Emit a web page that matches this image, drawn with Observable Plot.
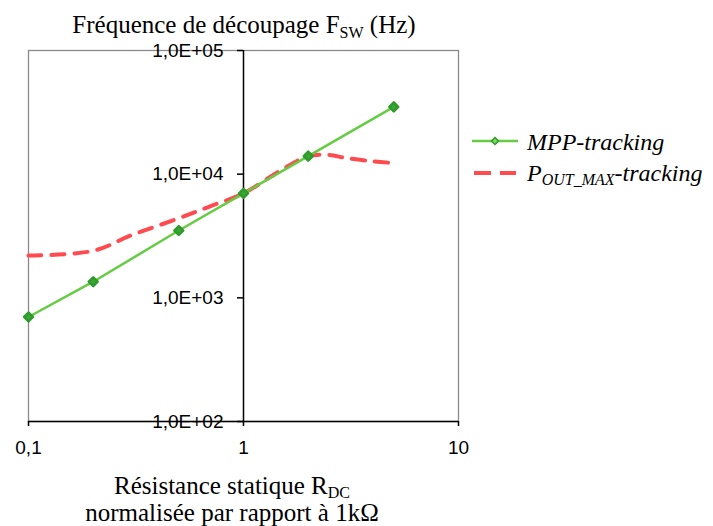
<!DOCTYPE html>
<html><head><meta charset="utf-8">
<script src="https://cdn.jsdelivr.net/npm/d3@7"></script>
<script src="https://cdn.jsdelivr.net/npm/@observablehq/plot@0.6"></script>
<style>body{margin:0;background:#fff} #chart{width:713px;height:526px}</style>
</head><body><div id="chart"></div>
<script>
// Data
const mppR = [0.1, 0.2, 0.5, 1, 2, 5];
const mppF = [700, 1350, 3500, 7000, 14000, 35000];
const poutR = [0.1, 0.2, 0.3, 0.5, 0.7, 1, 1.5, 2, 2.5, 3, 4, 5];
const poutF = [2200, 2400, 3200, 4400, 5500, 7000, 10800, 14000, 14300, 13500, 12700, 12300];
const xTicks = [0.1, 1, 10];
const xTickLabels = ["0,1", "1", "10"];
const yTicks = [100, 1000, 10000, 100000];
const yTickLabels = ["1,0E+02", "1,0E+03", "1,0E+04", "1,0E+05"];
const seriesNames = ["MPP-tracking", "POUT_MAX-tracking"];

const mpp = mppR.map((r, i) => ({r, f: mppF[i]}));
const pout = poutR.map((r, i) => ({r, f: poutF[i]}));

const W = 713, H = 526, mL = 28, mR = 255, mT = 50, mB = 105;
const green = "#66CC44", dark = "#2E9A2A", red = "#FF4A4F";

const plot = Plot.plot({
  width: W, height: H,
  marginLeft: mL, marginRight: mR, marginTop: mT, marginBottom: mB,
  style: {fontFamily: "Liberation Sans, Arial, sans-serif", fontSize: "19px", color: "#000", background: "#fff"},
  x: {type: "log", domain: [0.1, 10], label: null},
  y: {type: "log", domain: [100, 100000], label: null},
  marks: [
    Plot.frame({stroke: "#8a8a8a", strokeWidth: 1.3}),
    Plot.ruleX([1], {stroke: "#000", strokeWidth: 1.5}),
    Plot.ruleY([100], {stroke: "#000", strokeWidth: 1.5}),
    Plot.axisY({ticks: yTicks, anchor: "left", tickSize: 6, tickPadding: 14, label: null,
      tickFormat: d => yTickLabels[yTicks.indexOf(d)], dx: (W - mL - mR) / 2, fontSize: 19, strokeWidth: 1.5}),
    Plot.axisX({ticks: xTicks, anchor: "bottom", tickSize: 5, tickPadding: 14, label: null,
      tickFormat: d => xTickLabels[xTicks.indexOf(d)], fontSize: 19, strokeWidth: 1.5}),
    Plot.line(pout, {x: "r", y: "f", stroke: red, strokeWidth: 4, strokeDasharray: "13,10", curve: "catmull-rom"}),
    Plot.line(mpp, {x: "r", y: "f", stroke: green, strokeWidth: 2.5}),
    Plot.dot(mpp, {x: "r", y: "f", symbol: "diamond2", r: 4, fill: "#3AA634", stroke: dark, strokeWidth: 2.5, strokeLinejoin: "round"})
  ]
});
document.getElementById("chart").appendChild(plot);

const svg = d3.select(plot);
const serif = "Liberation Serif, Times New Roman, serif";
// Title
const t = svg.append("text").attr("x", 244).attr("y", 33).attr("text-anchor", "middle")
  .attr("font-family", serif).attr("font-size", 25).attr("fill", "#000");
t.append("tspan").text("Fréquence de découpage F");
t.append("tspan").attr("font-size", 16).attr("dy", 5).text("SW");
t.append("tspan").attr("dy", -5).text(" (Hz)");
// X title
const x1 = svg.append("text").attr("x", 232).attr("y", 494).attr("text-anchor", "middle")
  .attr("font-family", serif).attr("font-size", 25).attr("fill", "#000");
x1.append("tspan").text("Résistance statique R");
x1.append("tspan").attr("font-size", 16).attr("dy", 4).text("DC");
svg.append("text").attr("x", 232).attr("y", 521).attr("text-anchor", "middle")
  .attr("font-family", serif).attr("font-size", 25).attr("fill", "#000")
  .text("normalisée par rapport à 1kΩ");
// Legend
const lg = svg.append("g").attr("text-anchor", "start");
lg.append("line").attr("x1", 472).attr("x2", 518).attr("y1", 141).attr("y2", 141)
  .attr("stroke", green).attr("stroke-width", 2.5);
lg.append("path").attr("d", "M495,137.5L498.5,141L495,144.5L491.5,141Z").attr("fill", "#7CD860").attr("stroke", dark).attr("stroke-width", 1.5);
lg.append("text").attr("x", 527).attr("y", 150).attr("text-anchor", "start").attr("font-family", serif).attr("font-style", "italic")
  .attr("font-size", 24).attr("fill", "#000").text(seriesNames[0]);
lg.append("line").attr("x1", 474).attr("x2", 516).attr("y1", 173).attr("y2", 173)
  .attr("stroke", red).attr("stroke-width", 4).attr("stroke-dasharray", "17,9");
const l2 = lg.append("text").attr("x", 527).attr("y", 181).attr("text-anchor", "start").attr("font-family", serif).attr("font-style", "italic")
  .attr("font-size", 24).attr("fill", "#000");
l2.append("tspan").text("P");
l2.append("tspan").attr("font-size", 16).attr("dy", 4).text("OUT_MAX");
l2.append("tspan").attr("dy", -4).text("-tracking");
</script>
</body></html>
